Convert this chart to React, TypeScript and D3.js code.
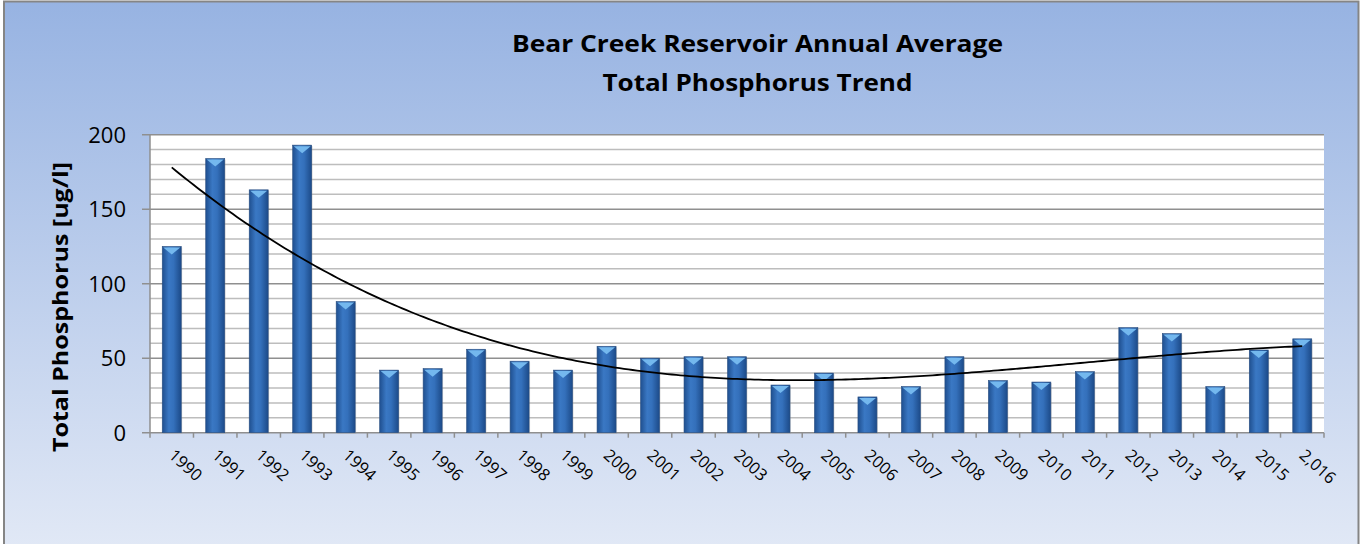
import React from "react";
import * as d3 from "d3";

const years = ["1990","1991","1992","1993","1994","1995","1996","1997","1998","1999","2000","2001","2002","2003","2004","2005","2006","2007","2008","2009","2010","2011","2012","2013","2014","2015","2,016"];
const phosphorus = [125,184,163,193,88,42,43,56,48,42,58,50,51,51,32,40,24,31,51,35,34,41,70.5,66.5,31,55.5,63];
const yTicks = [0,50,100,150,200];
const titleLines = ["Bear Creek Reservoir Annual Average","Total Phosphorus Trend"];
const yLabel = "Total Phosphorus [ug/l]";

function polyFit(xs: number[], ys: number[], order: number): number[] {
  const n = order + 1;
  const A: number[][] = Array.from({ length: n }, () => new Array(n + 1).fill(0));
  for (let i = 0; i < xs.length; i++) {
    for (let r = 0; r < n; r++) {
      for (let c = 0; c < n; c++) A[r][c] += Math.pow(xs[i], r + c);
      A[r][n] += ys[i] * Math.pow(xs[i], r);
    }
  }
  for (let i = 0; i < n; i++) {
    let p = i;
    for (let k = i + 1; k < n; k++) if (Math.abs(A[k][i]) > Math.abs(A[p][i])) p = k;
    [A[i], A[p]] = [A[p], A[i]];
    for (let k = i + 1; k < n; k++) {
      const f = A[k][i] / A[i][i];
      for (let j = i; j <= n; j++) A[k][j] -= f * A[i][j];
    }
  }
  const coef = new Array(n).fill(0);
  for (let i = n - 1; i >= 0; i--) {
    let s = A[i][n];
    for (let j = i + 1; j < n; j++) s -= A[i][j] * coef[j];
    coef[i] = s / A[i][i];
  }
  return coef;
}

export default function App() {
  const W = 1361, H = 544;
  const left = 150, right = 1324, top = 134.7, bottom = 432.7;
  const x = d3.scaleBand<string>().domain(years).range([left, right]).paddingInner(0).paddingOuter(0);
  const y = d3.scaleLinear().domain([0, 200]).range([bottom, top]);
  const bw = 19;
  const minor = d3.range(0, 201, 10);

  const idx = years.map((_, i) => i);
  const coef = polyFit(idx, phosphorus, 3);
  const f = (t: number) => coef.reduce((s, c, k) => s + c * Math.pow(t, k), 0);
  const samples = d3.range(0, 26.001, 0.1);
  const cx = (t: number) => left + (t + 0.5) * x.bandwidth();
  const line = d3.line<number>().x(t => cx(t)).y(t => y(f(t)))(samples) || "";

  const font = "'Open Sans', 'Noto Sans', sans-serif";
  const titleWidths = [491, 310];
  const titleBase = [51.5, 90.5];

  return (
    <svg width={W} height={H} style={{ position: "absolute", left: 0, top: 0 }}>
      <defs>
        <linearGradient id="bg" x1="0" y1="0" x2="0" y2="1">
          <stop offset="0" stopColor="#97b3e2" />
          <stop offset="1" stopColor="#e2e9f6" />
        </linearGradient>
        <linearGradient id="bar" x1="0" y1="0" x2="1" y2="0">
          <stop offset="0" stopColor="#1f4f8f" />
          <stop offset="0.35" stopColor="#3a78c4" />
          <stop offset="0.6" stopColor="#3470bb" />
          <stop offset="1" stopColor="#1c4a88" />
        </linearGradient>
      </defs>
      <rect x={0} y={0} width={W} height={H} fill="white" />
      <rect x={4} y={1.5} width={1354.5} height={H + 10} fill="url(#bg)" stroke="#858585" strokeWidth={2} />
      {titleLines.map((t, i) => (
        <text key={i} x={757.5} y={titleBase[i]} textAnchor="middle" fontFamily={font} fontWeight="bold" fontSize={24}
          textLength={titleWidths[i]} lengthAdjust="spacingAndGlyphs" fill="#000">{t}</text>
      ))}
      <rect x={left} y={top} width={right - left} height={bottom - top} fill="#ffffff" />
      {minor.map(v => (
        <line key={v} x1={v % 50 === 0 ? left - 8 : left} x2={right} y1={y(v)} y2={y(v)}
          stroke={v % 50 === 0 ? "#8f8f8f" : "#bdbdbd"} strokeWidth={v % 50 === 0 ? 1.6 : 1.5} />
      ))}
      <line x1={left} x2={left} y1={top} y2={bottom + 5} stroke="#8f8f8f" strokeWidth={1.5} />
      {years.map((yr) => (
        <line key={yr} x1={x(yr)! + x.bandwidth()} x2={x(yr)! + x.bandwidth()} y1={bottom} y2={bottom + 5} stroke="#8f8f8f" strokeWidth={1.5} />
      ))}
      {yTicks.map(v => (
        <text key={v} x={126} y={y(v)} dy="0.36em" textAnchor="end" fontFamily={font} fontSize={22} fill="#000">{v}</text>
      ))}
      <text transform={`translate(68,307) rotate(-90)`} textAnchor="middle" fontFamily={font} fontWeight="bold" fontSize={21}
        textLength={290} lengthAdjust="spacingAndGlyphs" fill="#000">{yLabel}</text>
      {years.map((yr, i) => {
        const c = x(yr)! + x.bandwidth() / 2;
        const yt = y(phosphorus[i]);
        return (
          <g key={yr}>
            <rect x={c - bw / 2 + 1} y={yt + 1} width={bw} height={bottom - yt} fill="#9a9a9a" opacity={0.35} />
            <rect x={c - bw / 2} y={yt} width={bw} height={bottom - yt} fill="url(#bar)" stroke="#2a4f80" strokeWidth={0.6} />
            <path d={`M${c - bw / 2 + 1},${yt + 1}L${c + bw / 2 - 1},${yt + 1}L${c},${yt + 8}Z`} fill="#74b8ee" />
          </g>
        );
      })}
      <path d={line} fill="none" stroke="#000" strokeWidth={1.8} />
      {years.map((yr) => {
        const c = x(yr)! + x.bandwidth() / 2;
        return (
          <text key={yr} transform={`translate(${c - 4},${bottom + 24}) rotate(42)`} fontFamily={font} fontSize={16.5} fill="#000">{yr}</text>
        );
      })}
    </svg>
  );
}
